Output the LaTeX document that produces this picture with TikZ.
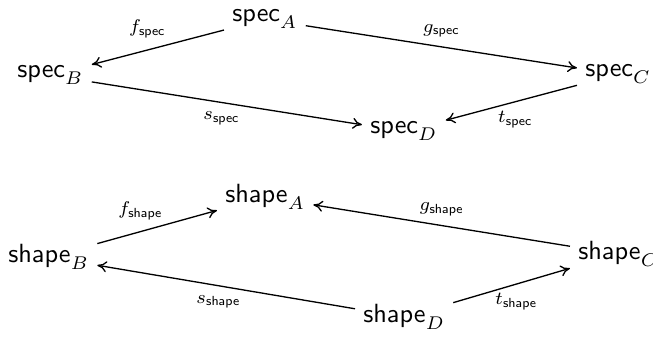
\documentclass[tikz,border=0pt]{standalone}
\usetikzlibrary{arrows.meta}
\begin{document}
\begin{tikzpicture}[x=0.38pt,y=-0.38pt,
  obj/.style={anchor=base west,inner sep=3pt},
  mor/.style={-{To[length=3.6pt,width=4.2pt]},line width=0.5pt},
  lbl/.style={font=\scriptsize}]
\useasboundingbox (0,0) rectangle (653,337);
% upper square: specifications
\node[obj] (sA) at (224,22)  {$\mathsf{spec}_A$};
\node[obj] (sB) at (9,78)    {$\mathsf{spec}_B$};
\node[obj] (sC) at (577,77)  {$\mathsf{spec}_C$};
\node[obj] (sD) at (362,134) {$\mathsf{spec}_D$};
\draw[mor] (sA) -- node[lbl,above=1pt,pos=0.58] {$f_{\mathsf{spec}}$} (sB);
\draw[mor] (sA) -- node[lbl,above=0pt] {$g_{\mathsf{spec}}$} (sC);
\draw[mor] (sB) -- node[lbl,below=0pt,pos=0.48] {$s_{\mathsf{spec}}$} (sD);
\draw[mor] (sC) -- node[lbl,below=0pt,pos=0.47] {$t_{\mathsf{spec}}$} (sD);
% lower square: shapes
\node[obj] (hA) at (217,203) {$\mathsf{shape}_A$};
\node[obj] (hB) at (0,263)   {$\mathsf{shape}_B$};
\node[obj] (hC) at (570,260) {$\mathsf{shape}_C$};
\node[obj] (hD) at (355,323) {$\mathsf{shape}_D$};
\draw[mor] (hB) -- node[lbl,above=1pt,pos=0.36] {$f_{\mathsf{shape}}$} (hA);
\draw[mor] (hC) -- node[lbl,above=0pt] {$g_{\mathsf{shape}}$} (hA);
\draw[mor] (hD) -- node[lbl,below=0pt,pos=0.53] {$s_{\mathsf{shape}}$} (hB);
\draw[mor] (hD) -- node[lbl,below=0pt,pos=0.54] {$t_{\mathsf{shape}}$} (hC);
\end{tikzpicture}
\end{document}
